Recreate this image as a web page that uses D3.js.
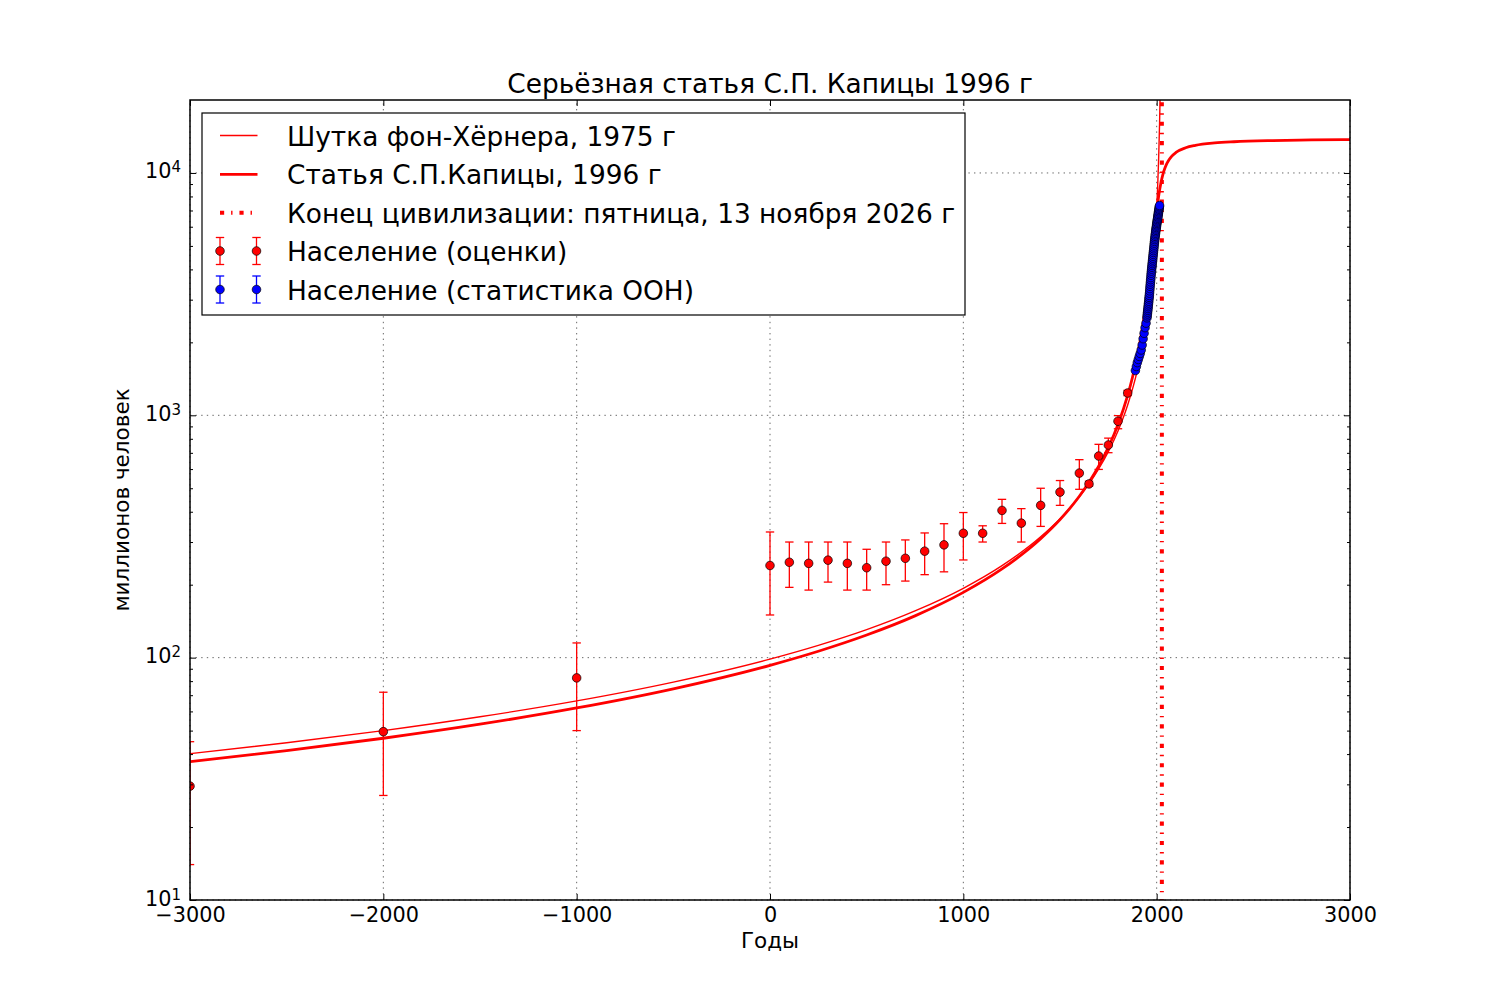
<!DOCTYPE html>
<html>
<head>
<meta charset="utf-8">
<script src="https://cdn.jsdelivr.net/npm/d3@7"></script>
<style>
  html, body { margin: 0; padding: 0; background: #fff; }
  svg { display: block; font-family: "DejaVu Sans", sans-serif; }
</style>
</head>
<body>
<svg id="chart" width="1500" height="1000"></svg>
<script>
// ---------------- DATA ----------------
const titleText = "Серьёзная статья С.П. Капицы 1996 г";
const xLabelText = "Годы";
const yLabelText = "миллионов человек";
const legendLabels = [
  "Шутка фон-Хёрнера, 1975 г",
  "Статья С.П.Капицы, 1996 г",
  "Конец цивилизации: пятница, 13 ноября 2026 г",
  "Население (оценки)",
  "Население (статистика ООН)"
];

// von Foerster curve (millions)
const yearsFoerster = [-3000, -2500, -2000, -1500, -1000, -500, 0, 250, 500, 750, 1000, 1200, 1400, 1500,
  1600, 1650, 1700, 1750, 1800, 1850, 1900, 1925, 1950, 1960, 1970, 1980, 1990, 2000, 2005, 2010, 2015, 2017, 2020];
const popFoerster = [40.15, 44.53, 49.99, 57.02, 66.31, 79.29, 98.63, 112.4, 130.5, 155.9, 193.3, 239.6, 315.2, 374.4,
  461.1, 521.5, 600.6, 707.9, 862.2, 1103, 1533, 1904, 2517, 2890, 3393, 4108, 5209, 7126, 8737, 11297, 15998, 19205, 27490];

// Kapitsa curve (millions)
const yearsKapitsa = [-3000, -2500, -2000, -1500, -1000, -500, 0, 250, 500, 750, 1000, 1200, 1400, 1500,
  1600, 1650, 1700, 1750, 1800, 1850, 1875, 1900, 1925, 1940, 1950, 1960, 1970, 1975, 1980, 1985, 1990, 1995,
  2000, 2005, 2010, 2015, 2020, 2025, 2030, 2035, 2040, 2050, 2060, 2075, 2100, 2150, 2200, 2300, 2400, 2600, 2800, 3000];
const popKapitsa = [37.2, 41.33, 46.5, 53.14, 62.0, 74.39, 92.99, 106.3, 124.0, 148.7, 185.9, 232.3, 309.5, 371.1,
  463.3, 528.9, 616.0, 737.1, 916.6, 1209, 1436, 1761, 2262, 2705, 3091, 3586, 4210, 4579, 4988, 5437, 5921, 6432,
  6956, 7481, 7992, 8476, 8925, 9334, 9703, 10033, 10327, 10822, 11208, 11651, 12152, 12704, 12996, 13297, 13449, 13603, 13680, 13727];

const endYear = 2026.87;

// Population estimates (millions) with ranges
const yearsEst = [-3000, -2000, -1000, 0, 100, 200, 300, 400, 500, 600, 700, 800, 900, 1000, 1100, 1200, 1300,
  1400, 1500, 1600, 1650, 1700, 1750, 1800, 1850];
const popEst = [29.5, 49.5, 82.5, 240, 247.5, 245, 252.5, 245, 235, 250, 257, 275, 292, 326, 326, 405, 359,
  425, 482, 577.5, 521, 679, 754, 945, 1236];
const loEst = [14, 27, 50, 150, 195, 190, 205, 190, 190, 200, 207, 220, 226, 253, 300, 358, 300,
  348, 425, 495, 510, 598, 701, 880, 1205];
const hiEst = [45, 72, 115, 330, 300, 300, 300, 300, 280, 300, 306, 327, 357, 397, 350, 450, 412,
  500, 538, 656, 535, 759, 805, 997, 1268];

// UN statistics (millions)
const yearsUN = [1890, 1895, 1900, 1905, 1910, 1915, 1920, 1925, 1930, 1935, 1940, 1945,
  1950, 1951, 1952, 1953, 1954, 1955, 1956, 1957, 1958, 1959, 1960, 1961, 1962, 1963, 1964, 1965, 1966, 1967, 1968, 1969,
  1970, 1971, 1972, 1973, 1974, 1975, 1976, 1977, 1978, 1979, 1980, 1981, 1982, 1983, 1984, 1985, 1986, 1987, 1988, 1989,
  1990, 1991, 1992, 1993, 1994, 1995, 1996, 1997, 1998, 1999, 2000, 2001, 2002, 2003, 2004, 2005, 2006, 2007, 2008, 2009,
  2010, 2011, 2012, 2013, 2014, 2015];
const popUN = [1530, 1590, 1650, 1700, 1750, 1800, 1860, 1950, 2070, 2180, 2300, 2400,
  2525, 2572, 2619, 2665, 2712, 2758, 2806, 2855, 2906, 2957, 3018, 3068, 3124, 3192, 3263, 3334, 3406, 3478, 3552, 3629,
  3700, 3783, 3858, 3935, 4010, 4083, 4154, 4226, 4299, 4375, 4451, 4534, 4615, 4699, 4780, 4864, 4951, 5041, 5132, 5222,
  5310, 5396, 5478, 5559, 5640, 5721, 5801, 5880, 5957, 6034, 6112, 6190, 6268, 6346, 6424, 6503, 6584, 6664, 6747, 6830,
  6916, 7001, 7085, 7170, 7254, 7338];

const xTicks = [-3000, -2000, -1000, 0, 1000, 2000, 3000];
const yTicks = [10, 100, 1000, 10000];
const yMinorTicks = [20, 30, 40, 50, 60, 70, 80, 90, 200, 300, 400, 500, 600, 700, 800, 900,
  2000, 3000, 4000, 5000, 6000, 7000, 8000, 9000];

// ---------------- DRAW ----------------
const L = 190, R = 1350, T = 100, B = 900;
const RED = "#ff0000", BLUE = "#0000ff";
const svg = d3.select("#chart");
svg.append("rect").attr("width", 1500).attr("height", 1000).attr("fill", "#fff");

const x = d3.scaleLinear().domain([-3000, 3000]).range([L, R]);
const y = d3.scaleLog().domain([10, 20000]).range([B, T]);

svg.append("clipPath").attr("id", "plotclip")
  .append("rect").attr("x", L).attr("y", T).attr("width", R - L).attr("height", B - T);

// grid
const grid = svg.append("g").attr("stroke", "#000").attr("stroke-width", 0.6)
  .attr("stroke-dasharray", "1.4,4.2");
xTicks.forEach(t => grid.append("line").attr("x1", x(t)).attr("x2", x(t)).attr("y1", B).attr("y2", T));
yTicks.forEach(t => grid.append("line").attr("x1", L).attr("x2", R).attr("y1", y(t)).attr("y2", y(t)));

const plot = svg.append("g").attr("clip-path", "url(#plotclip)");

const line = d3.line().x(d => x(d[0])).y(d => y(d[1])).curve(d3.curveMonotoneX);

plot.append("path")
  .attr("d", line(yearsFoerster.map((t, i) => [t, popFoerster[i]])))
  .attr("fill", "none").attr("stroke", RED).attr("stroke-width", 1.4);

plot.append("path")
  .attr("d", line(yearsKapitsa.map((t, i) => [t, popKapitsa[i]])))
  .attr("fill", "none").attr("stroke", RED).attr("stroke-width", 2.8);

// end of civilization
plot.append("line")
  .attr("x1", x(endYear)).attr("x2", x(endYear))
  .attr("y1", B).attr("y2", T)
  .attr("stroke", RED).attr("stroke-width", 4)
  .attr("stroke-dasharray", "4.17,6.94,1.39,6.94")
  .attr("stroke-dashoffset", 3.4);

// estimates with error bars
const eb = plot.append("g");
yearsEst.forEach((t, i) => {
  const cx = x(t);
  eb.append("line").attr("x1", cx).attr("x2", cx).attr("y1", y(loEst[i])).attr("y2", y(hiEst[i]))
    .attr("stroke", RED).attr("stroke-width", 1.3);
  [loEst[i], hiEst[i]].forEach(v => {
    eb.append("line").attr("x1", cx - 4.2).attr("x2", cx + 4.2).attr("y1", y(v)).attr("y2", y(v))
      .attr("stroke", RED).attr("stroke-width", 1.3);
  });
});
yearsEst.forEach((t, i) => {
  eb.append("circle").attr("cx", x(t)).attr("cy", y(popEst[i])).attr("r", 4.3)
    .attr("fill", RED).attr("stroke", "#000").attr("stroke-width", 0.7);
});

// UN stats
const un = plot.append("g");
yearsUN.forEach((t, i) => {
  un.append("circle").attr("cx", x(t)).attr("cy", y(popUN[i])).attr("r", 4.3)
    .attr("fill", BLUE).attr("stroke", "#000").attr("stroke-width", 0.7);
});

// frame
svg.append("rect").attr("x", L).attr("y", T).attr("width", R - L).attr("height", B - T)
  .attr("fill", "none").attr("stroke", "#000").attr("stroke-width", 1.5);

// axes
const fontTick = 20.8;
const fmt = d3.format("d");

const xAxisB = svg.append("g").attr("transform", `translate(0,${B})`)
  .call(d3.axisBottom(x).tickValues(xTicks).tickSize(-6).tickPadding(7).tickFormat(fmt));
const xAxisT = svg.append("g").attr("transform", `translate(0,${T})`)
  .call(d3.axisTop(x).tickValues(xTicks).tickSize(-6).tickFormat(""));
const yAxisL = svg.append("g").attr("transform", `translate(${L},0)`)
  .call(d3.axisLeft(y).tickValues(yTicks).tickSize(-6).tickPadding(9).tickFormat(d => "10"));
const yAxisLm = svg.append("g").attr("transform", `translate(${L},0)`)
  .call(d3.axisLeft(y).tickValues(yMinorTicks).tickSize(-3).tickFormat(""));
const yAxisR = svg.append("g").attr("transform", `translate(${R},0)`)
  .call(d3.axisRight(y).tickValues(yTicks).tickSize(-6).tickFormat(""));
const yAxisRm = svg.append("g").attr("transform", `translate(${R},0)`)
  .call(d3.axisRight(y).tickValues(yMinorTicks).tickSize(-3).tickFormat(""));

[xAxisB, xAxisT, yAxisL, yAxisLm, yAxisR, yAxisRm].forEach(g => {
  g.select(".domain").remove();
  g.selectAll(".tick line").attr("stroke", "#000").attr("stroke-width", 1);
  g.selectAll("text").attr("font-family", "DejaVu Sans").attr("font-size", fontTick).attr("fill", "#000");
});

yAxisL.selectAll(".tick text").each(function(d) {
  const t = d3.select(this);
  t.attr("dy", null).attr("y", 5);
  t.append("tspan").attr("dy", -6).attr("font-size", 15).text(Math.round(Math.log10(d)));
});

// labels
svg.append("text").attr("x", (L + R) / 2).attr("y", 93).attr("text-anchor", "middle")
  .attr("font-size", 26.4).text(titleText);
svg.append("text").attr("x", (L + R) / 2).attr("y", 948).attr("text-anchor", "middle")
  .attr("font-size", 21.5).text(xLabelText);
svg.append("text").attr("transform", `translate(129,${(T + B) / 2}) rotate(-90)`)
  .attr("text-anchor", "middle").attr("font-size", 21.5).text(yLabelText);

// legend
const lg = svg.append("g");
lg.append("rect").attr("x", 202).attr("y", 113).attr("width", 763).attr("height", 202)
  .attr("fill", "#fff").attr("stroke", "#000").attr("stroke-width", 1.2);
const rowY = [135.5, 174.3, 212.8, 251, 289.5];
const sx1 = 220, sx2 = 257.5;
lg.append("line").attr("x1", sx1).attr("x2", sx2).attr("y1", rowY[0]).attr("y2", rowY[0])
  .attr("stroke", RED).attr("stroke-width", 1.4);
lg.append("line").attr("x1", sx1).attr("x2", sx2).attr("y1", rowY[1]).attr("y2", rowY[1])
  .attr("stroke", RED).attr("stroke-width", 2.8);
lg.append("line").attr("x1", sx1).attr("x2", sx2).attr("y1", rowY[2]).attr("y2", rowY[2])
  .attr("stroke", RED).attr("stroke-width", 4).attr("stroke-dasharray", "4.17,6.94,1.39,6.94");
[[rowY[3], RED], [rowY[4], BLUE]].forEach(([yy, c]) => {
  [sx1, sx2 - 1].forEach(cx => {
    lg.append("line").attr("x1", cx).attr("x2", cx).attr("y1", yy - 13.5).attr("y2", yy + 13.5)
      .attr("stroke", c).attr("stroke-width", 1.3);
    [yy - 13.5, yy + 13.5].forEach(cy => lg.append("line").attr("x1", cx - 4.2).attr("x2", cx + 4.2)
      .attr("y1", cy).attr("y2", cy).attr("stroke", c).attr("stroke-width", 1.3));
    lg.append("circle").attr("cx", cx).attr("cy", yy).attr("r", 4.3)
      .attr("fill", c).attr("stroke", "#000").attr("stroke-width", 0.7);
  });
});
legendLabels.forEach((s, i) => {
  lg.append("text").attr("x", 287).attr("y", rowY[i] + 10).attr("font-size", 26.4).text(s);
});
</script>
</body>
</html>
